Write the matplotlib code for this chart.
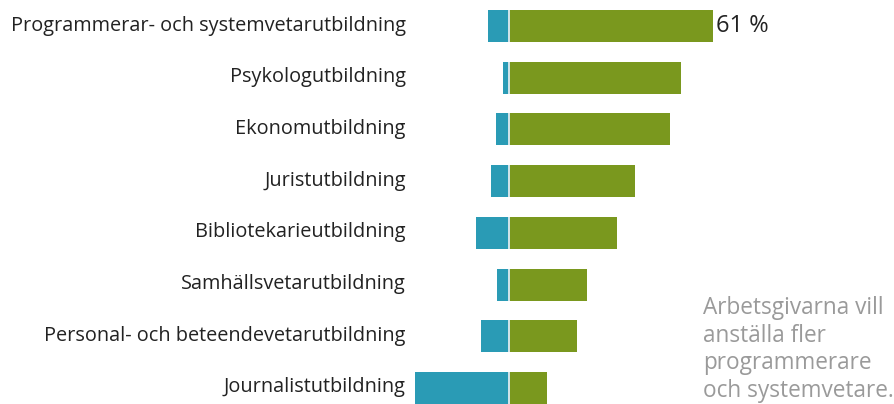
import matplotlib
matplotlib.use("Agg")
from matplotlib import pyplot as plt
from matplotlib import transforms

#%% Data (percent)
utbildningar = ["Programmerar- och systemvetarutbildning",
                "Psykologutbildning",
                "Ekonomutbildning",
                "Juristutbildning",
                "Bibliotekarieutbildning",
                "Samhällsvetarutbildning",
                "Personal- och beteendevetarutbildning",
                "Journalistutbildning"]
fler = [61, 51.5, 48, 37.5, 32, 23, 20, 11]      # green, to the right
farre = [6, 1.5, 3.7, 5.1, 9.7, 3.4, 8.2, 28]    # blue, to the left
note = "Arbetsgivarna vill\nanställa fler\nprogrammerare\noch systemvetare."

GREEN = "#7a981e"
BLUE = "#2a9bb5"
FONT = "Open Sans"

#%% Figure
W, H = 895, 404
fig = plt.figure(figsize=(W/100, H/100), dpi=100)
ax = fig.add_axes([410/W, 0, 1 - 410/W, 1])

pos = list(range(len(utbildningar)))
ax.barh(pos, fler, height=0.62, left=0.3, color=GREEN)
ax.barh(pos, [-v for v in farre], height=0.62, left=-0.3, color=BLUE)
ax.barh(pos, 0.6, height=0.62, left=-0.3, color="#cfe3e8")

ax.text(fler[0] + 1.3, 0, "%d %%" % fler[0], va="center", ha="left",
        fontsize=17, family=FONT, color="#222222")

ax.set_xlim(-(509-410)/3.33, (W-509)/3.33)
ax.set_ylim(7 + (H-388)/51.7, -26/51.7)
ax.set_yticks(pos)
ax.set_yticklabels(utbildningar, fontsize=14.3, family=FONT, color="#222222")
ax.tick_params(axis="y", length=0, pad=3)
ax.set_xticks([])
for s in ax.spines.values():
    s.set_visible(False)

# nudge the labels up a little, they sit slightly above bar centre
shift = transforms.ScaledTranslation(0, 3/100, fig.dpi_scale_trans)
for lbl in ax.get_yticklabels():
    lbl.set_transform(lbl.get_transform() + shift)

fig.text(703/W, 1 - 296/H, note, ha="left", va="top", fontsize=16.3,
         family=FONT, color="#9a9a9a", linespacing=1.2)

fig.savefig("out.png", dpi=100)
